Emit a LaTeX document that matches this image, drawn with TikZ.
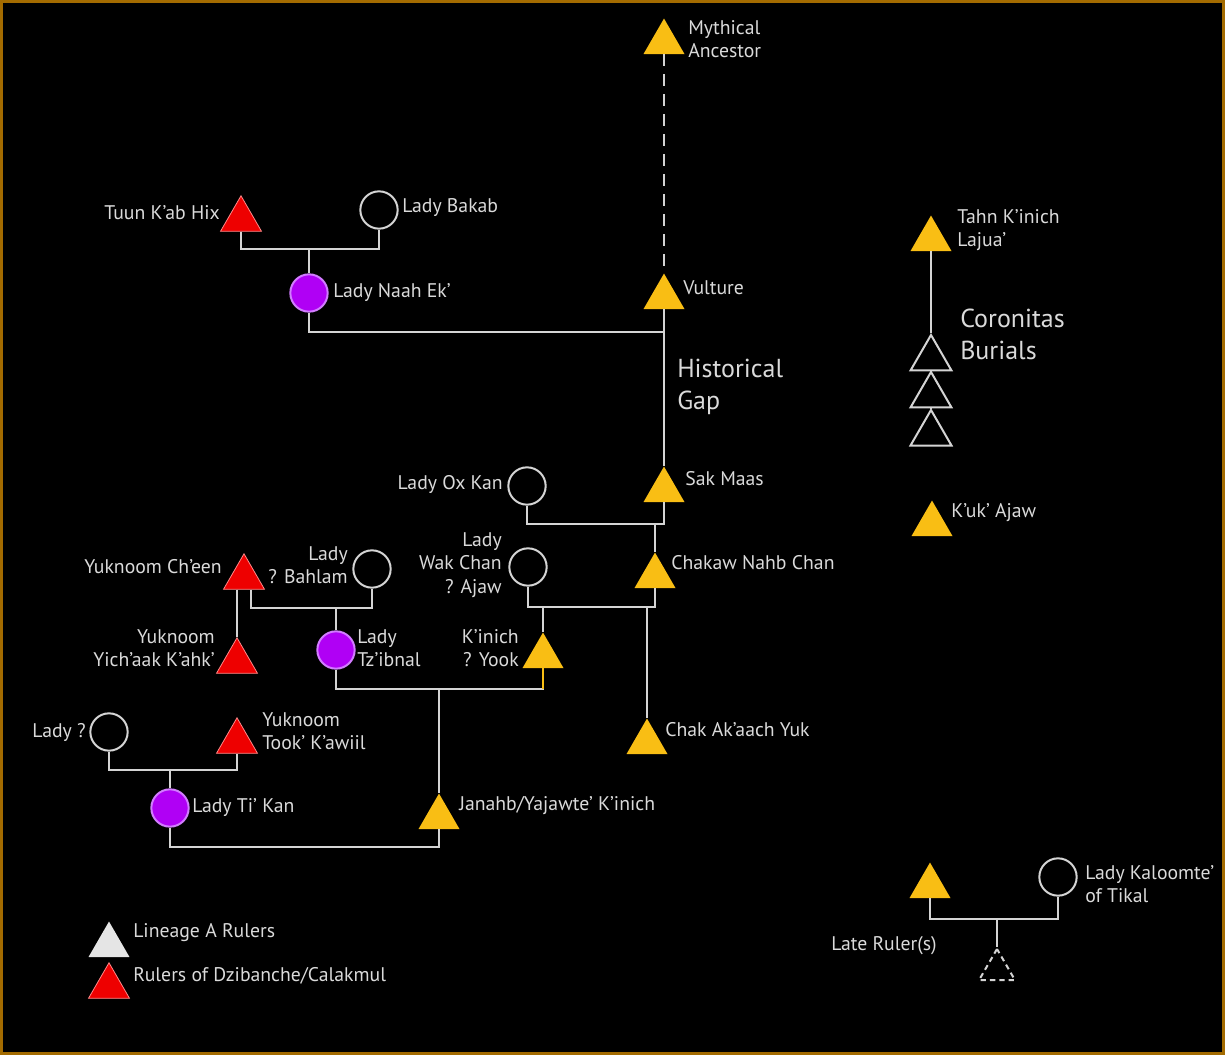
\documentclass[tikz,border=0pt]{standalone}
\usepackage{fontspec}
\setmainfont{PT Sans}
\usetikzlibrary{shapes.geometric}
\definecolor{mayagold}{HTML}{F9BE14}
\definecolor{mayared}{HTML}{EE0000}
\definecolor{redline}{HTML}{FF8A8A}
\definecolor{mayapurple}{HTML}{B000F5}
\definecolor{purpleline}{HTML}{D27CFF}
\definecolor{linegrey}{HTML}{D4D4D4}
\definecolor{textgrey}{HTML}{DADADA}
\definecolor{framegold}{HTML}{A36B00}
\newcommand{\KinWidth}{1.5pt}

\begin{document}
\begin{tikzpicture}[x=0.75pt,y=-0.75pt,
	ruler/.style={regular polygon,regular polygon sides=3,inner sep=0pt,minimum size=35.5pt,anchor=north,fill=mayagold},
	calak/.style={ruler,fill=mayared,draw=redline,line width=0.6pt},
	burial/.style={ruler,fill=none,draw=linegrey,line width=\KinWidth},
	lady/.style={circle,inner sep=0pt,minimum size=28pt,draw=linegrey,line width=\KinWidth},
	heir/.style={lady,fill=mayapurple,draw=purpleline},
	who/.style={text=textgrey,font=\fontsize{14.8}{17.5}\selectfont,inner sep=0pt},
	bigwho/.style={text=textgrey,font=\fontsize{19.5}{24}\selectfont,inner sep=0pt,align=left,anchor=west},
	kin/.style={draw=linegrey,line width=\KinWidth}]
				\useasboundingbox (0,0) rectangle (1225,1055);
				\fill[black] (0,0) rectangle (1225,1055);
				\draw[framegold,line width=2pt] (1.3,1.3) rectangle (1223.7,1053.7);
				% lineage A
				\node[ruler] (mythical) at (664,18) {};
				\node[ruler] (vulture) at (664,273) {};
				\node[ruler] (sakmaas) at (664,466) {};
				\node[ruler] (chakaw) at (655,552) {};
				\node[ruler] (chak) at (647,718) {};
				\node[ruler] (kinich) at (543,632) {};
				\node[ruler] (janahb) at (439,793) {};
				% Dzibanche / Calakmul
				\node[calak] (tuun) at (241,195) {};
				\node[calak] (cheen) at (244,553) {};
				\node[calak] (yichaak) at (237,637) {};
				\node[calak] (took) at (237,717) {};
				% wives and daughters
				\node[lady] (bakab) at (379,210) {};
				\node[heir] (naahek) at (309,293) {};
				\node[lady] (oxkan) at (527,486) {};
				\node[lady] (wakchan) at (528,567) {};
				\node[lady] (bahlam) at (372,569) {};
				\node[heir] (tzibnal) at (336,650) {};
				\node[lady] (ladyq) at (109,732) {};
				\node[heir] (tikan) at (170,808) {};
				% Coronitas
				\node[ruler] (tahn) at (931,215) {};
				\node[burial] (cora) at (931,333) {};
				\node[burial] (corb) at (931,370) {};
				\node[burial] (corc) at (931,408) {};
				\node[ruler] (kuk) at (932,500) {};
				% late rulers
				\node[ruler] (lateking) at (930,862) {};
				\node[lady] (kaloomte) at (1058,877) {};
				\node[burial,minimum size=31pt,dash pattern=on 4pt off 3pt] (laterulers) at (997,947) {};
				% legend
				\node[ruler,fill=white!90!black] (keya) at (109,921) {};
				\node[calak] (keyb) at (109,962) {};

				\coordinate (m1) at (309,249);
				\coordinate (gap) at (664,332);
				\coordinate (m2) at (655,524);
				\coordinate (m3) at (647,607);
				\coordinate (m4) at (336,608);
				\coordinate (m5) at (439,689);
				\coordinate (m6) at (170,770);
				\coordinate (m7) at (439,847);
				\coordinate (m8) at (997,919);

				\draw[kin,dash pattern=on 9pt off 6pt] (mythical.south) -- (vulture.north);
				\draw[kin] (vulture.south) -- (sakmaas.north);
				\draw[kin] (tuun.south) |- (m1) -| (bakab.south);
				\draw[kin] (m1) -- (naahek.north);
				\draw[kin] (naahek.south) |- (gap);
				\draw[kin] (oxkan.south) |- (m2) -| (sakmaas.south);
				\draw[kin] (m2) -- (chakaw.north);
				\draw[kin] (wakchan.south) |- (m3) -| (chakaw.south);
				\draw[kin] (m3) -- (chak.north);
				\draw[kin] (kinich.north |- m3) -- (kinich.north);
				\draw[kin] ([xshift=5pt]cheen.south) |- (m4) -| (bahlam.south);
				\draw[kin] (m4) -- (tzibnal.north);
				\draw[kin] (yichaak.north |- cheen.south) -- (yichaak.north);
				\draw[kin] (tzibnal.south) |- (m5) -| (kinich.south);
				\draw[kin,draw=mayagold] (kinich.south) -- (kinich.south |- m5);
				\draw[kin] (m5) -- (janahb.north);
				\draw[kin] (ladyq.south) |- (m6) -| (took.south);
				\draw[kin] (m6) -- (tikan.north);
				\draw[kin] (tikan.south) |- (m7) -- (janahb.south);
				\draw[kin] (tahn.south) -- (cora.north);
				\draw[kin] (cora.south) -- (corb.north);
				\draw[kin] (corb.south) -- (corc.north);
				\draw[kin] (lateking.south) |- (m8) -| (kaloomte.south);
				\draw[kin] (m8) -- (laterulers.north);

				% names
				\node[who,anchor=west,align=left] (tmythical) at (688,39) {Mythical\\Ancestor};
				\node[who,anchor=west] (tvulture) at (683,288) {Vulture};
				\node[bigwho] (tgap) at (677,387) {Historical\\Gap};
				\node[who,anchor=west] (tsakmaas) at (685,479) {Sak Maas};
				\node[who,anchor=east] (toxkan) at (503,484) {Lady Ox Kan};
				\node[who,anchor=west] (tchakaw) at (671,563) {Chakaw Nahb Chan};
				\node[who,anchor=east,align=right] (twakchan) at (502,565) {Lady\\Wak Chan\\? Ajaw};
				\node[who,anchor=east,align=right] (tkinich) at (519,648) {K'inich\\? Yook};
				\node[who,anchor=west] (tchak) at (665,730) {Chak Ak'aach Yuk};
				\node[who,anchor=east,align=right] (tbahlam) at (348,565) {Lady\\? Bahlam};
				\node[who,anchor=east] (tcheen) at (222,567) {Yuknoom Ch'een};
				\node[who,anchor=east,align=right] (tyichaak) at (215,648) {Yuknoom\\Yich'aak K'ahk'};
				\node[who,anchor=west,align=left] (ttzibnal) at (357,648) {Lady\\Tz'ibnal};
				\node[who,anchor=east] (tladyq) at (86,732) {Lady ?};
				\node[who,anchor=west,align=left] (ttook) at (262,731) {Yuknoom\\Took' K'awiil};
				\node[who,anchor=west] (ttikan) at (192,808) {Lady Ti' Kan};
				\node[who,anchor=west] (tjanahb) at (459,806) {Janahb/Yajawte' K'inich};
				\node[who,anchor=east] (ttuun) at (220,213) {Tuun K'ab Hix};
				\node[who,anchor=west] (tbakab) at (402,208) {Lady Bakab};
				\node[who,anchor=west] (tnaahek) at (333,293) {Lady Naah Ek'};
				\node[who,anchor=west,align=left] (ttahn) at (957,230) {Tahn K'inich\\Lajua'};
				\node[bigwho] (tcoronitas) at (960,334) {Coronitas\\Burials};
				\node[who,anchor=west] (tkuk) at (951,513) {K'uk' Ajaw};
				\node[who,anchor=west,align=left] (tkaloomte) at (1085,884) {Lady Kaloomte'\\of Tikal};
				\node[who] (tlate) at (884,946) {Late Ruler(s)};
				\node[who,anchor=west] (tkeya) at (133,933) {Lineage A Rulers};
				\node[who,anchor=west] (tkeyb) at (133,976) {Rulers of Dzibanche/Calakmul};
		\end{tikzpicture}
\end{document}
